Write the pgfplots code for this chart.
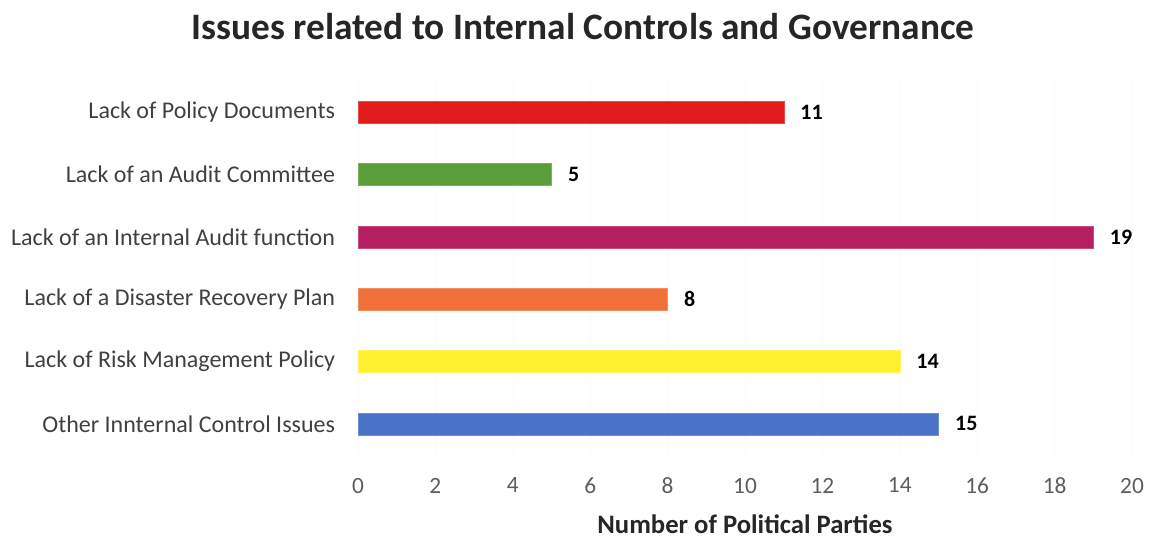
\documentclass[border=0pt]{standalone}
\usepackage{pgfplots}
\pgfplotsset{compat=1.18}
\usepackage{fontspec}
\setmainfont{Carlito}
\definecolor{cRed}{RGB}{226,28,28}
\definecolor{cGreen}{RGB}{90,158,58}
\definecolor{cMag}{RGB}{182,32,96}
\definecolor{cOrange}{RGB}{240,112,56}
\definecolor{cYellow}{RGB}{255,240,48}
\definecolor{cBlue}{RGB}{74,114,200}
\definecolor{txt}{RGB}{64,64,64}
\definecolor{ttl}{RGB}{38,38,38}
\begin{document}
\begin{tikzpicture}[x=1pt,y=1pt]
\begin{axis}[
  scale only axis,
  width=580.5pt, height=280.5pt,
  xmin=0, xmax=20, ymin=-0.5, ymax=5.5,
  xtick={0,2,...,20},
  ytick={0,1,2,3,4,5},
  yticklabels={Other Innternal Control Issues, Lack of Risk Management Policy, Lack of a Disaster Recovery Plan, Lack of an Internal Audit function, Lack of an Audit Committee, Lack of Policy Documents},
  axis line style={draw=none},
  major tick length=0pt,
  xmajorgrids, grid style={gray!5, line width=0.4pt},
  /pgf/number format/assume math mode=true,
  xticklabel style={font=\fontsize{17.5}{19}\selectfont, text=txt!85, anchor=north, inner sep=0pt, yshift=-17pt},
  yticklabel style={font=\fontsize{18}{20}\selectfont, text=txt, anchor=east, inner sep=0pt, xshift=-17pt},
  xbar, bar width=16.5pt, bar shift=0pt,
  clip=false,
  nodes near coords,
  every node near coord/.append style={font=\fontsize{16.5}{18}\bfseries\selectfont, text=black, anchor=west, xshift=9pt},
]
\addplot[fill=cRed, draw=cRed!80!white, line width=0.3pt] coordinates {(11,5)};
\addplot[fill=cGreen, draw=cGreen!80!white, line width=0.3pt] coordinates {(5,4)};
\addplot[fill=cMag, draw=cMag!80!white, line width=0.3pt] coordinates {(19,3)};
\addplot[fill=cOrange, draw=cOrange!80!white, line width=0.3pt] coordinates {(8,2)};
\addplot[fill=cYellow, draw=cYellow!80!white, line width=0.3pt] coordinates {(14,1)};
\addplot[fill=cBlue, draw=cBlue!80!white, line width=0.3pt] coordinates {(15,0)};
\node[font=\fontsize{28}{32}\bfseries\selectfont, text=ttl] at (rel axis cs:0.2907,1.1444) {Issues related to Internal Controls and Governance};
\node[font=\fontsize{20}{24}\bfseries\selectfont, text=ttl] at (rel axis cs:0.5,-0.1845) {Number of Political Parties};
\path[draw=none] (rel axis cs:-0.4625,-0.2193) rectangle (rel axis cs:1.0245,1.2166);
\end{axis}
\end{tikzpicture}
\end{document}
